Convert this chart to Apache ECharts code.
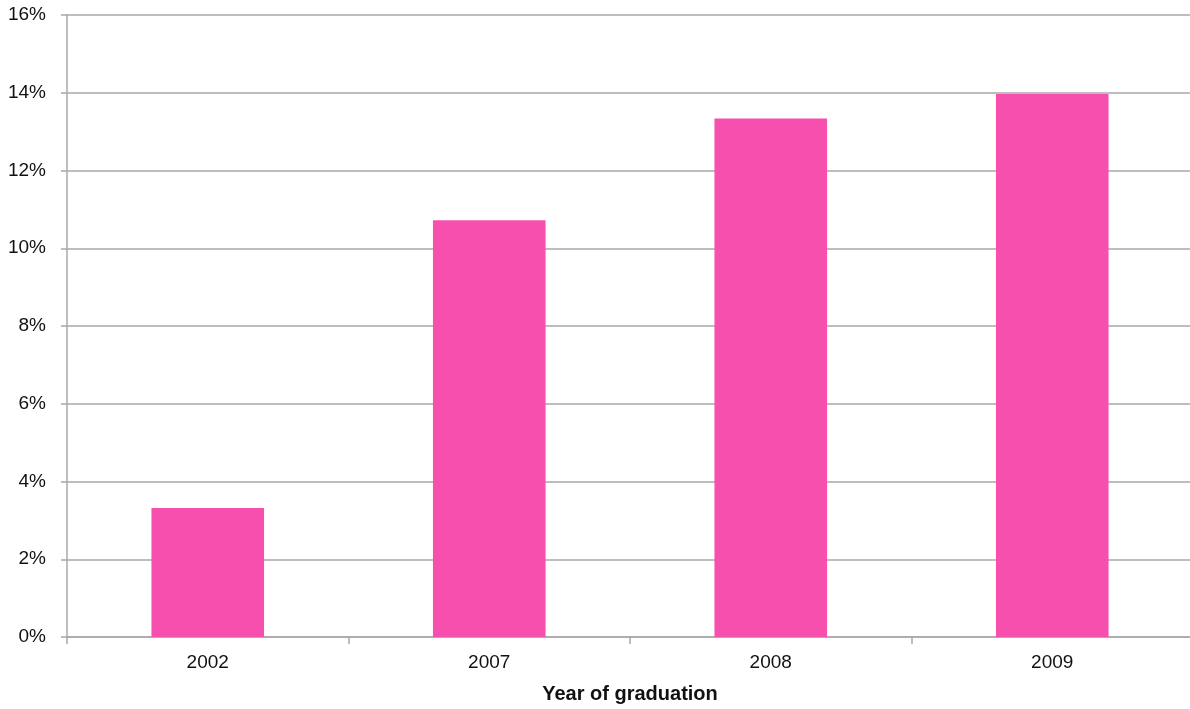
<!DOCTYPE html>
<html>
<head>
<meta charset="utf-8">
<script src="https://cdn.jsdelivr.net/npm/echarts@6/dist/echarts.min.js"></script>
<style>
  html, body { margin: 0; padding: 0; background: #fff; }
  #chart { width: 1190px; height: 709px; }
</style>
</head>
<body>
<div id="chart"></div>
<script>
// Share of graduates by year of graduation
const years = ['2002', '2007', '2008', '2009'];
const shares = [0.0332, 0.1072, 0.1334, 0.1397];
const axisTitle = 'Year of graduation';

const gridColor = '#a8a8a8';
const textColor = '#111111';
const fontFamily = '"Liberation Sans", Arial, Helvetica, sans-serif';

const chart = echarts.init(document.getElementById('chart'), null, { renderer: 'canvas' });
chart.setOption({
  animation: false,
  grid: {
    left: 67, top: 15, width: 1126, height: 622,
    containLabel: false,
    outerBoundsMode: 'none'
  },
  xAxis: {
    type: 'category',
    data: years,
    boundaryGap: true,
    axisLine: { show: true, lineStyle: { color: gridColor, width: 1.5 } },
    axisTick: { show: true, length: 7, lineStyle: { color: gridColor, width: 1.5 } },
    axisLabel: { color: textColor, fontSize: 19, fontFamily: fontFamily, margin: 16 },
    name: axisTitle,
    nameLocation: 'middle',
    nameGap: 47,
    nameTextStyle: { color: textColor, fontSize: 20, fontWeight: 'bold', fontFamily: fontFamily }
  },
  yAxis: {
    type: 'value',
    min: 0,
    max: 0.16,
    interval: 0.02,
    axisLine: { show: true, lineStyle: { color: gridColor, width: 1.5 } },
    axisTick: { show: true, length: 6, lineStyle: { color: gridColor, width: 1.5 } },
    axisLabel: {
      color: textColor, fontSize: 19, fontFamily: fontFamily, margin: 21,
      padding: [4, 0, 0, 0],
      formatter: v => Math.round(v * 100) + '%'
    },
    splitLine: { show: true, lineStyle: { color: gridColor, width: 1.5 } }
  },
  series: [{
    type: 'bar',
    data: shares,
    barWidth: '40%',
    itemStyle: { color: '#f74fae' }
  }]
});
</script>
</body>
</html>
